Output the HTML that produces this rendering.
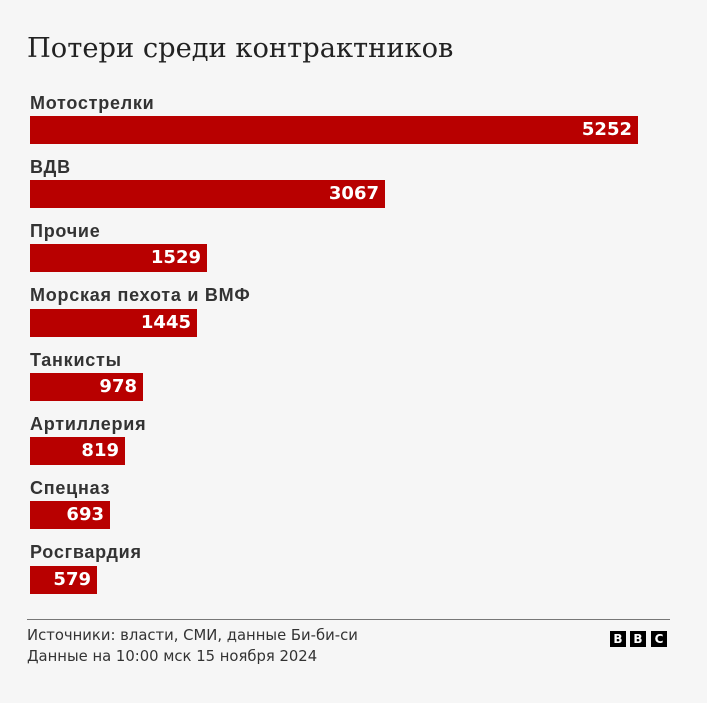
<!DOCTYPE html>
<html><head><meta charset="utf-8"><style>
body{margin:0;width:707px;height:703px;background:#f6f6f6;position:relative;overflow:hidden;font-family:"DejaVu Sans","Liberation Sans",sans-serif}
.t{position:absolute;left:27px;top:33px;font-family:"DejaVu Serif","Liberation Serif",serif;font-size:27.3px;color:#222;white-space:nowrap}
.l{position:absolute;left:30px;font-family:"Liberation Sans",sans-serif;letter-spacing:0.75px;font-size:18px;font-weight:bold;color:#333;white-space:nowrap}
.b{position:absolute;left:30px;height:28px;background:#b80000;color:#fff;font-weight:bold;font-size:18px;text-align:right;box-sizing:border-box;padding-right:6px;line-height:28px}
.hr{position:absolute;left:27px;top:619px;width:643px;height:1px;background:#777}
.f{position:absolute;left:27px;font-size:14.8px;color:#333;white-space:nowrap}
.x{position:absolute;top:631px;width:16px;height:16px;background:#000;color:#fff;font-weight:bold;font-size:12px;text-align:center;line-height:16px}
</style></head><body>
<div class="t">Потери среди контрактников</div>
<div class="l" style="top:93px">Мотострелки</div><div class="b" style="top:116px;width:608px">5252</div>
<div class="l" style="top:157px">ВДВ</div><div class="b" style="top:180px;width:355px">3067</div>
<div class="l" style="top:221px">Прочие</div><div class="b" style="top:244px;width:177px">1529</div>
<div class="l" style="top:285px">Морская пехота и ВМФ</div><div class="b" style="top:309px;width:167px">1445</div>
<div class="l" style="top:350px">Танкисты</div><div class="b" style="top:373px;width:113px">978</div>
<div class="l" style="top:414px">Артиллерия</div><div class="b" style="top:437px;width:95px">819</div>
<div class="l" style="top:478px">Спецназ</div><div class="b" style="top:501px;width:80px">693</div>
<div class="l" style="top:542px">Росгвардия</div><div class="b" style="top:566px;width:67px">579</div>
<div class="hr"></div>
<div class="f" style="top:627px">Источники: власти, СМИ, данные Би-би-си</div>
<div class="f" style="top:648px">Данные на 10:00 мск 15 ноября 2024</div>
<div class="x" style="left:610px">B</div><div class="x" style="left:630px">B</div><div class="x" style="left:651px">C</div>
</body></html>
